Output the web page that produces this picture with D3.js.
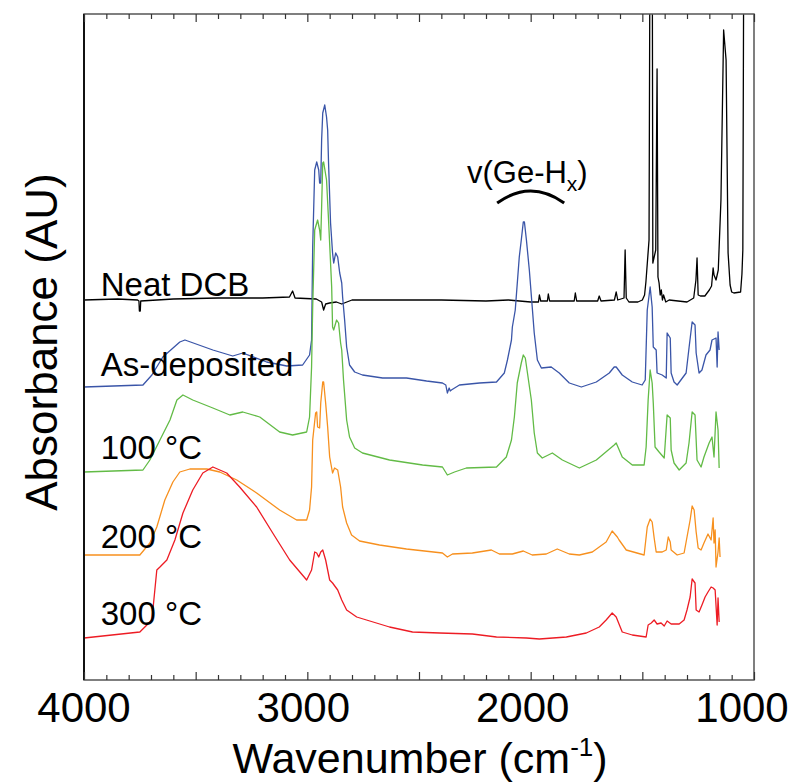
<!DOCTYPE html>
<html>
<head>
<meta charset="utf-8">
<script src="https://cdn.jsdelivr.net/npm/d3@7"></script>
<style>
  html, body { margin: 0; padding: 0; background: #fff; }
  svg { display: block; font-family: "Liberation Sans", Arial, Helvetica, sans-serif; }
</style>
</head>
<body>
<svg id="chart" width="799" height="782"></svg>
<script>
// FTIR spectra of Ge-H films cast from DCB, stacked with vertical offsets.
// Each spectrum: [wavenumber (cm^-1), absorbance (a.u., relative to its own baseline)]
const neatDCB = [
  [4000,0],[3850,1],[3760,0],[3754,-1],[3752,-11],[3748,-11],[3746,-1],[3600,1],[3400,2],[3200,2],
  [3080,3],[3066,9],[3055,2],[2960,1],[2936,-2],[2927,-10],[2918,-4],[2900,-3],[2870,-2],[2846,-4],
  [2800,0],[2600,0],[2400,0],[2200,-1],[2100,0],[2000,-2],[1965,-2],[1961,5],[1955,-1],[1925,-1],
  [1921,6],[1915,-1],[1805,-1],[1800,7],[1794,-1],[1700,-1],[1693,4],[1685,-1],[1625,0],[1617,8],
  [1610,0],[1582,2],[1577,50],[1572,2],[1560,-2],[1520,-2],[1500,0],[1490,5],[1484,18],[1470,60],
  [1465,420],[1456,420],[1453,37],[1440,50],[1434,231],[1430,23],[1425,17],[1420,5],[1415,10],
  [1410,0],[1405,5],[1395,-2],[1380,0],[1300,-2],[1270,2],[1260,20],[1255,42],[1250,5],[1240,4],
  [1220,4],[1200,10],[1190,14],[1183,32],[1179,25],[1170,20],[1160,30],[1148,100],[1136,270],
  [1125,240],[1116,47],[1107,15],[1100,8],[1090,7],[1060,8],[1054,26],[1050,50],[1045,420]
];
const asDeposited = [
  [4000,3],[3736,5],[3696,15],[3647,33],[3571,48],[3548,50],[3423,40],[3334,34],[3289,37],[3182,28],
  [3092,24],[3021,25],[2990,35],[2981,50],[2976,143],[2967,220],[2958,228],[2949,220],[2945,207],
  [2940,207],[2936,250],[2931,277],[2922,285],[2914,273],[2909,260],[2905,227],[2896,167],[2887,137],
  [2882,127],[2873,137],[2864,133],[2855,117],[2846,107],[2842,93],[2833,70],[2824,43],[2811,25],
  [2788,18],[2753,15],[2663,12],[2556,12],[2466,9],[2395,7],[2380,5],[2373,-3],[2365,2],[2360,-1],
  [2355,0],[2319,5],[2229,7],[2153,8],[2118,17],[2104,30],[2086,50],[2082,63],[2069,80],[2051,133],
  [2042,150],[2033,168],[2028,168],[2019,150],[2006,120],[1993,83],[1984,57],[1970,30],[1952,22],
  [1908,23],[1872,17],[1827,7],[1773,3],[1706,8],[1648,17],[1626,23],[1617,23],[1590,15],[1545,8],
  [1501,5],[1487,10],[1478,80],[1465,103],[1456,83],[1451,43],[1438,40],[1434,17],[1411,15],[1393,12],
  [1389,57],[1375,52],[1371,17],[1358,8],[1344,5],[1304,17],[1291,42],[1277,68],[1264,65],[1259,37],
  [1246,17],[1233,20],[1215,35],[1197,40],[1188,50],[1170,52],[1165,23],[1161,58],[1156,40]
];
const anneal100 = [
  [4000,-2],[3736,0],[3705,10],[3660,30],[3615,50],[3584,70],[3557,75],[3513,70],[3423,62],[3347,55],
  [3289,58],[3213,53],[3124,38],[3066,35],[3003,38],[2990,53],[2981,103],[2976,163],[2967,240],
  [2954,250],[2945,240],[2940,230],[2936,263],[2931,307],[2927,308],[2914,290],[2905,250],[2891,183],
  [2887,143],[2882,140],[2869,150],[2860,147],[2851,127],[2846,120],[2838,90],[2824,50],[2811,33],
  [2788,22],[2753,17],[2632,10],[2484,5],[2395,3],[2373,-5],[2341,-2],[2288,2],[2153,3],[2109,13],
  [2086,30],[2073,53],[2060,87],[2042,107],[2033,115],[2024,112],[1997,70],[1984,37],[1970,17],
  [1948,12],[1903,17],[1858,10],[1782,2],[1706,10],[1626,25],[1617,27],[1590,13],[1545,5],[1492,5],
  [1483,23],[1474,70],[1465,100],[1456,87],[1451,67],[1443,23],[1425,18],[1402,12],[1389,55],
  [1375,52],[1371,20],[1358,7],[1335,0],[1304,7],[1291,27],[1277,58],[1264,55],[1255,10],[1237,3],
  [1224,13],[1201,27],[1188,33],[1179,13],[1170,58],[1161,40],[1156,2]
];
const anneal200 = [
  [4000,0],[3750,0],[3705,12],[3674,28],[3638,55],[3602,73],[3571,83],[3526,86],[3450,86],[3392,83],
  [3316,75],[3227,62],[3124,45],[3048,35],[3003,35],[2990,45],[2981,68],[2976,115],[2963,142],
  [2958,143],[2954,128],[2945,127],[2940,152],[2931,173],[2927,173],[2918,152],[2909,128],[2900,98],
  [2887,82],[2878,87],[2864,85],[2851,68],[2842,48],[2824,32],[2802,20],[2766,14],[2677,10],[2556,6],
  [2395,2],[2373,-2],[2350,1],[2261,2],[2176,5],[2140,1],[2082,1],[2033,4],[1993,0],[1930,1],
  [1881,6],[1827,1],[1782,0],[1724,3],[1662,13],[1635,24],[1612,18],[1604,15],[1572,5],[1492,0],
  [1478,28],[1465,36],[1456,33],[1447,17],[1438,3],[1411,3],[1393,5],[1384,18],[1375,13],[1371,5],
  [1344,0],[1313,2],[1304,13],[1286,35],[1277,49],[1268,45],[1259,23],[1250,7],[1237,5],[1224,12],
  [1206,21],[1192,15],[1183,37],[1179,12],[1174,25],[1170,-12],[1161,3],[1156,17],[1152,-2]
];
const anneal300 = [
  [4000,2],[3750,8],[3696,20],[3674,70],[3660,73],[3629,80],[3593,100],[3557,127],[3513,150],
  [3468,167],[3423,173],[3361,167],[3303,153],[3227,133],[3155,107],[3079,80],[3003,60],[2981,70],
  [2967,88],[2958,87],[2949,83],[2940,88],[2931,90],[2918,80],[2900,60],[2887,57],[2864,50],
  [2846,40],[2824,30],[2811,28],[2779,23],[2735,20],[2632,13],[2529,8],[2408,7],[2261,6],[2153,3],
  [2019,2],[1961,1],[1840,3],[1751,7],[1693,13],[1662,20],[1635,27],[1617,23],[1590,8],[1545,5],
  [1483,3],[1474,15],[1460,17],[1447,20],[1434,16],[1416,17],[1402,14],[1389,19],[1371,16],[1335,16],
  [1313,20],[1300,30],[1286,43],[1277,61],[1264,57],[1259,30],[1246,28],[1233,35],[1219,43],
  [1206,48],[1192,53],[1183,52],[1174,50],[1165,15],[1161,42],[1156,18]
];

const seriesNames   = ["Neat DCB", "As-deposited", "100 °C", "200 °C", "300 °C"];
const seriesData    = [neatDCB, asDeposited, anneal100, anneal200, anneal300];
const seriesOffsets = [380, 290, 210, 125, 40];
const seriesColors  = ["#000000", "#3a55a8", "#62bb46", "#f7901e", "#ed1c24"];
const xTickLabels   = [4000, 3000, 2000, 1000];

// layout
const W = 799, H = 782;
const plot = { left: 84, right: 754, top: 14, bottom: 680 };
const labelLift = [4, 14, 11, 7, 15];   // px above each trace baseline

const svg = d3.select("#chart");
const x = d3.scaleLinear().domain([4000, 1000]).range([plot.left, plot.right]);
const y = d3.scaleLinear().domain([0, 666]).range([plot.bottom, plot.top]);
// tick labels are packed slightly tighter so "1000" stays inside the page
const xLabel = d3.scaleLinear().domain([4000, 1000]).range([plot.left, plot.right - 12]);

svg.append("defs").append("clipPath").attr("id", "plotClip")
  .append("rect")
  .attr("x", plot.left).attr("y", plot.top)
  .attr("width", plot.right - plot.left).attr("height", plot.bottom - plot.top);

// spectra
const line = d3.line().x(d => x(d[0])).y(d => y(d[1]));
const traces = svg.append("g").attr("clip-path", "url(#plotClip)");
seriesData.forEach((s, i) => {
  traces.append("path")
    .datum(s.map(d => [d[0], d[1] + seriesOffsets[i]]))
    .attr("fill", "none")
    .attr("stroke", seriesColors[i])
    .attr("stroke-width", 1.3)
    .attr("stroke-linejoin", "round")
    .attr("d", line);
});

// frame
svg.append("rect")
  .attr("x", plot.left).attr("y", plot.top)
  .attr("width", plot.right - plot.left).attr("height", plot.bottom - plot.top)
  .attr("fill", "none").attr("stroke", "#555").attr("stroke-width", 1.5);
svg.append("line")
  .attr("x1", plot.left).attr("x2", plot.left)
  .attr("y1", plot.top).attr("y2", plot.bottom)
  .attr("stroke", "#111").attr("stroke-width", 2);

// inward ticks on top and bottom: minor every 100, major every 500
const tickVals = d3.range(1000, 4001, 100);
const axisBottom = d3.axisBottom(x).tickValues(tickVals).tickSizeInner(-5).tickSizeOuter(0).tickFormat("");
const axisTop = d3.axisTop(x).tickValues(tickVals).tickSizeInner(-5).tickSizeOuter(0).tickFormat("");
const gB = svg.append("g").attr("transform", `translate(0,${plot.bottom})`).call(axisBottom);
const gT = svg.append("g").attr("transform", `translate(0,${plot.top})`).call(axisTop);
[gB, gT].forEach(g => {
  g.select(".domain").remove();
  g.selectAll(".tick line")
    .attr("stroke", "#333")
    .attr("stroke-width", 1.2)
    .attr("y2", function(d) {
      const sgn = +d3.select(this).attr("y2") < 0 ? -1 : 1;
      return sgn * (d % 500 === 0 ? 8 : 5);
    });
});

// tick labels
svg.append("g").selectAll("text").data(xTickLabels).join("text")
  .attr("x", d => xLabel(d)).attr("y", 722)
  .attr("text-anchor", "middle")
  .attr("font-size", 42)
  .attr("fill", "#000")
  .text(d => d);

// axis titles
const xt = svg.append("text")
  .attr("x", 420).attr("y", 773)
  .attr("text-anchor", "middle").attr("font-size", 43).attr("fill", "#000");
xt.append("tspan").text("Wavenumber (cm");
xt.append("tspan").attr("font-size", 26).attr("dy", -17).text("-1");
xt.append("tspan").attr("dy", 17).text(")");

svg.append("text")
  .attr("transform", "translate(57,342) rotate(-90)")
  .attr("text-anchor", "middle").attr("font-size", 44).attr("fill", "#000")
  .text("Absorbance (AU)");

// series labels
seriesNames.forEach((name, i) => {
  svg.append("text")
    .attr("x", x(3925))
    .attr("y", y(seriesOffsets[i]) - labelLift[i])
    .attr("font-size", 33).attr("fill", "#000")
    .text(name);
});

// Ge-H stretching annotation
const arcL = 2150, arcR = 1850, arcLevel = 477, arcRise = 24;
svg.append("path")
  .attr("d", `M${x(arcL)},${y(arcLevel)} Q${(x(arcL) + x(arcR)) / 2},${y(arcLevel + arcRise)} ${x(arcR)},${y(arcLevel)}`)
  .attr("fill", "none").attr("stroke", "#000").attr("stroke-width", 3);
const gl = svg.append("text")
  .attr("x", x(2015)).attr("y", 183)
  .attr("text-anchor", "middle").attr("font-size", 31).attr("fill", "#000");
gl.append("tspan").text("v(Ge-H");
gl.append("tspan").attr("font-size", 21).attr("dy", 8).text("x");
gl.append("tspan").attr("dy", -8).text(")");
</script>
</body>
</html>
